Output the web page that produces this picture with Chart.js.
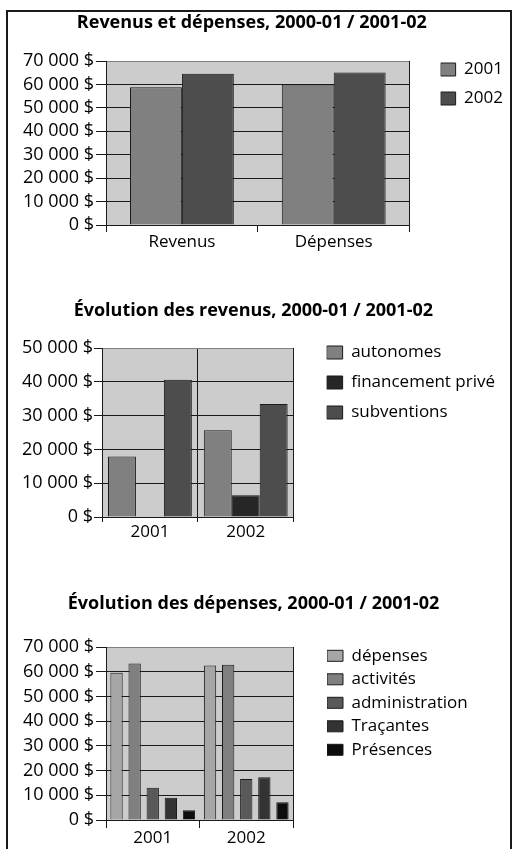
<!DOCTYPE html>
<html lang="fr">
<head>
<meta charset="utf-8">
<script src="https://cdn.jsdelivr.net/npm/chart.js@4.4.1/dist/chart.umd.min.js"></script>
<style>
  body { margin: 0; background: #fff; }
  #page { position: absolute; left: 0; top: 0; width: 514px; height: 849px; overflow: hidden; }
  #frame { position: absolute; left: 6px; top: 10px; width: 506px; height: 860px; border: 2px solid #1a1a1a; box-sizing: border-box; }
  canvas { position: absolute; left: -20px; }
</style>
</head>
<body>
<div id="page">
  <div id="frame"></div>
  <canvas id="chart1" height="262" style="top:0"></canvas>
  <canvas id="chart2" height="268" style="top:280px"></canvas>
  <canvas id="chart3" height="289" style="top:560px"></canvas>
</div>
<script>
// Revenus et dépenses
const categories = ['Revenus', 'Dépenses'];
const values2001 = [58800, 60000];
const values2002 = [64600, 65100];

// Évolution des revenus
const years = ['2001', '2002'];
const autonomes = [17900, 25700];
const financementPrive = [null, 6400];
const subventions = [40600, 33400];

// Évolution des dépenses
const depenses = [59700, 62600];
const activites = [63400, 62900];
const administration = [13100, 16600];
const tracantes = [9000, 17300];
const presences = [4000, 7200];

const ticks70 = ['0 $', '10 000 $', '20 000 $', '30 000 $', '40 000 $', '50 000 $', '60 000 $', '70 000 $'];
const ticks50 = ['0 $', '10 000 $', '20 000 $', '30 000 $', '40 000 $', '50 000 $'];

const FONT = '"Open Sans", sans-serif';
const OFFSET = 20;   // les canvas débordent de 20px à gauche (voir le css)

Chart.defaults.font.family = FONT;
Chart.defaults.font.size = 17;
Chart.defaults.color = '#000';
Chart.defaults.animation = false;

// fond gris de la zone du graphique
const plotBackground = {
  id: 'plotBackground',
  beforeDraw(chart) {
    const {ctx, chartArea} = chart;
    ctx.save();
    ctx.fillStyle = '#cccccc';
    ctx.fillRect(chartArea.left, chartArea.top, chartArea.width, chartArea.height);
    ctx.restore();
  }
};

function bars(label, data, color) {
  return { label: label, data: data, backgroundColor: color, borderColor: '#1a1a1a', borderWidth: 1 };
}

// largeur que Chart.js donnera à la légende
function legendWidth(datasets, boxW) {
  const ctx = document.createElement('canvas').getContext('2d');
  ctx.font = '17px ' + FONT;
  const widest = Math.max(...datasets.map(d => ctx.measureText(d.label).width));
  return boxW + 17 / 2 + widest + 10;
}

function makeChart(id, s) {
  const max = (s.ticks.length - 1) * 10000;

  // le titre est centré entre le bord gauche de l'axe y et le bord droit de la légende
  const legendRight = s.boxLeft + legendWidth(s.datasets, s.boxW);
  const extra = Math.max(0, 2 * s.titleX - 10 - legendRight);
  const scaleLeft = 2 * s.titleX - legendRight - extra;
  const canvas = document.getElementById(id);
  canvas.width = legendRight + extra + OFFSET;

  return new Chart(canvas, {
    type: 'bar',
    data: { labels: s.labels, datasets: s.datasets },
    options: {
      responsive: false,
      datasets: { bar: { categoryPercentage: s.catPct, barPercentage: s.barPct } },
      layout: { padding: { left: scaleLeft + OFFSET, top: 0, bottom: 0, right: 0 } },
      scales: {
        x: {
          grid: { drawOnChartArea: s.xGrid, color: '#1a1a1a', tickLength: s.xTick },
          border: { color: '#1a1a1a' },
          ticks: { padding: s.xPad, font: { size: 17 } },
          afterFit: scale => { scale.height = s.xHeight; }
        },
        y: {
          min: 0,
          max: max,
          ticks: {
            stepSize: 10000,
            autoSkip: false,
            padding: s.yPad,
            font: { size: 18, lineHeight: 1 },
            callback: (v, i) => s.ticks[i]
          },
          grid: {
            color: c => (c.tick && c.tick.value === max) ? '#808080' : '#1a1a1a',
            tickColor: '#1a1a1a',
            tickLength: s.yTick
          },
          border: { color: '#1a1a1a' },
          afterFit: scale => { scale.width = s.plotLeft - scaleLeft; }
        },
        // axe vide : bord droit + espace avant la légende
        gap: {
          type: 'linear',
          position: 'right',
          grid: { drawOnChartArea: false, drawTicks: false },
          ticks: { display: false },
          border: { color: '#1a1a1a' },
          afterFit: scale => { scale.width = s.boxLeft - s.plotRight; }
        },
        // axe vide après la légende
        pad: {
          type: 'linear',
          position: 'right',
          weight: 2000,
          grid: { drawOnChartArea: false, drawTicks: false },
          ticks: { display: false },
          border: { display: false },
          afterFit: scale => { scale.width = extra; }
        }
      },
      plugins: {
        title: {
          display: true,
          text: s.title,
          color: '#000',
          font: { weight: 'bold', size: 18, lineHeight: 1.2 },
          padding: s.titlePad
        },
        legend: {
          position: 'right',
          align: 'start',
          maxWidth: 400,
          // titre vide pour descendre les items au niveau voulu
          title: { display: true, text: ' ', font: { size: 1, lineHeight: 1 }, padding: { top: s.legendTop - 1, bottom: 0 } },
          labels: {
            boxWidth: s.boxW,
            boxHeight: s.boxH,
            padding: 0,
            color: '#000',
            font: { size: 17, lineHeight: s.step / 17 },
            generateLabels: chart => Chart.defaults.plugins.legend.labels.generateLabels(chart)
              .map(item => Object.assign(item, { text: [item.text] }))
          }
        },
        tooltip: { enabled: false }
      }
    },
    plugins: [plotBackground]
  });
}

makeChart('chart1', {
  title: 'Revenus et dépenses, 2000-01 / 2001-02',
  labels: categories,
  datasets: [
    bars('2001', values2001, '#808080'),
    bars('2002', values2002, '#4d4d4d')
  ],
  ticks: ticks70,
  catPct: 0.684, barPct: 1,
  titleX: 252, plotLeft: 106, plotRight: 410, boxLeft: 441,
  xGrid: false, xTick: 7, xPad: 0, xHeight: 37,
  yTick: 10, yPad: 2,
  titlePad: { top: 12.2, bottom: 27.2 },
  boxW: 15, boxH: 13, legendTop: 61, step: 29
});

makeChart('chart2', {
  title: 'Évolution des revenus, 2000-01 / 2001-02',
  labels: years,
  datasets: [
    bars('autonomes', autonomes, '#808080'),
    bars('financement privé', financementPrive, '#262626'),
    bars('subventions', subventions, '#4d4d4d')
  ],
  ticks: ticks50,
  catPct: 0.875, barPct: 1,
  titleX: 253.5, plotLeft: 102, plotRight: 294, boxLeft: 327,
  xGrid: true, xTick: 5, xPad: 0, xHeight: 31,
  yTick: 8, yPad: 1,
  titlePad: { top: 19.7, bottom: 26.7 },
  boxW: 16, boxH: 13, legendTop: 64, step: 30
});

makeChart('chart3', {
  title: 'Évolution des dépenses, 2000-01 / 2001-02',
  labels: years,
  datasets: [
    bars('dépenses', depenses, '#a6a6a6'),
    bars('activités', activites, '#808080'),
    bars('administration', administration, '#595959'),
    bars('Traçantes', tracantes, '#333333'),
    bars('Présences', presences, '#0d0d0d')
  ],
  ticks: ticks70,
  catPct: 0.968, barPct: 0.68,
  titleX: 253.5, plotLeft: 106, plotRight: 293, boxLeft: 327,
  xGrid: false, xTick: 8, xPad: 0, xHeight: 29,
  yTick: 10, yPad: 2,
  titlePad: { top: 32.7, bottom: 33 },
  boxW: 16, boxH: 11, legendTop: 87.3, step: 23.5
});
</script>
</body>
</html>
